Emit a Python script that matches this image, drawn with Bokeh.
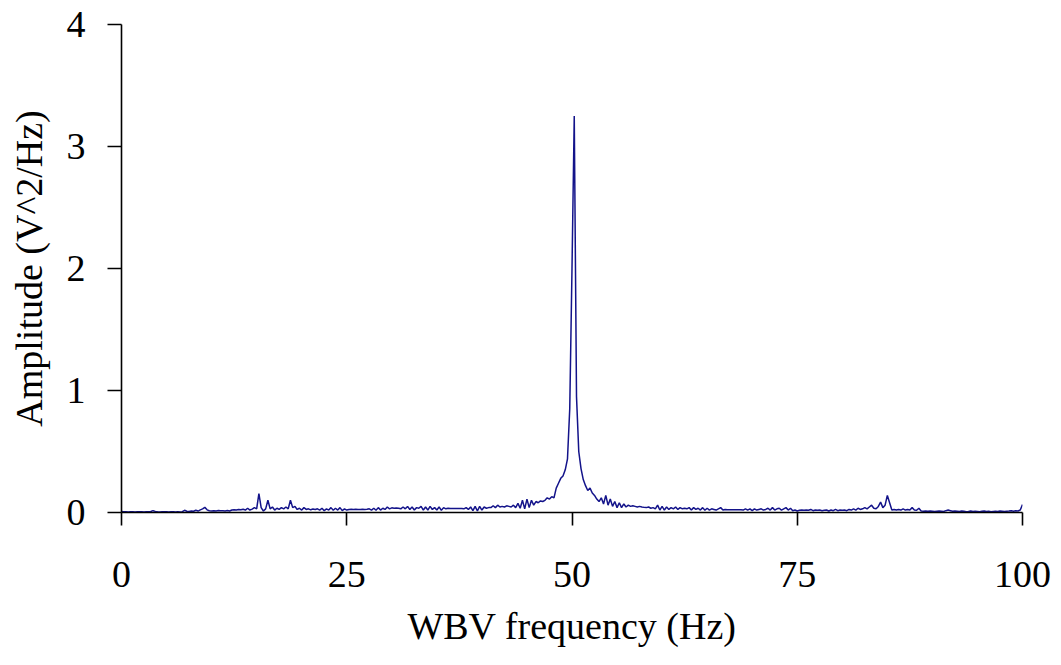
import numpy as np
from bokeh.plotting import figure
from bokeh.models import Range1d, FixedTicker
from bokeh.embed import file_html
from bokeh.resources import INLINE

# Spectrum sampled every 0.25 Hz from 0 to 100 Hz
freq_start = 0.0
freq_step = 0.25

amp_0_5 = [0.008, 0.006, 0.007, 0.005, 0.006, 0.007, 0.005, 0.006, 0.007, 0.006,
           0.005, 0.007, 0.006, 0.008, 0.015, 0.009, 0.006, 0.005, 0.007, 0.006]
amp_5_10 = [0.006, 0.005, 0.007, 0.006, 0.005, 0.006, 0.005, 0.007, 0.018, 0.010,
            0.008, 0.012, 0.010, 0.018, 0.012, 0.022, 0.030, 0.042, 0.022, 0.014]
amp_10_15 = [0.012, 0.015, 0.013, 0.016, 0.014, 0.015, 0.013, 0.016, 0.012, 0.020,
             0.022, 0.020, 0.025, 0.022, 0.026, 0.020, 0.035, 0.020, 0.028, 0.040]
amp_15_20 = [0.030, 0.155, 0.040, 0.012, 0.030, 0.100, 0.030, 0.045, 0.020, 0.035,
             0.025, 0.040, 0.030, 0.045, 0.030, 0.100, 0.040, 0.050, 0.025, 0.035]
amp_20_25 = [0.020, 0.040, 0.025, 0.030, 0.022, 0.028, 0.025, 0.030, 0.020, 0.035,
             0.015, 0.030, 0.020, 0.040, 0.018, 0.035, 0.020, 0.040, 0.015, 0.030]
amp_25_30 = [0.020, 0.025, 0.026, 0.025, 0.026, 0.025, 0.025, 0.026, 0.025, 0.026,
             0.030, 0.020, 0.035, 0.018, 0.040, 0.020, 0.035, 0.025, 0.045, 0.030]
amp_30_35 = [0.038, 0.035, 0.036, 0.035, 0.030, 0.045, 0.030, 0.050, 0.025, 0.045,
             0.020, 0.040, 0.035, 0.050, 0.020, 0.045, 0.020, 0.050, 0.025, 0.040]
amp_35_40 = [0.020, 0.045, 0.018, 0.040, 0.030, 0.035, 0.032, 0.033, 0.032, 0.033,
             0.032, 0.033, 0.030, 0.040, 0.025, 0.045, 0.015, 0.050, 0.012, 0.050]
amp_40_45 = [0.020, 0.045, 0.035, 0.040, 0.040, 0.055, 0.040, 0.060, 0.045, 0.050,
             0.045, 0.055, 0.050, 0.045, 0.060, 0.040, 0.075, 0.035, 0.100, 0.030]
amp_45_50 = [0.110, 0.040, 0.100, 0.060, 0.090, 0.080, 0.095, 0.090, 0.100, 0.120,
             0.110, 0.130, 0.120, 0.200, 0.240, 0.280, 0.300, 0.350, 0.440, 0.850]
amp_50_55 = [2.000, 3.250, 0.950, 0.500, 0.360, 0.270, 0.220, 0.180, 0.200, 0.160,
             0.140, 0.110, 0.090, 0.120, 0.070, 0.140, 0.060, 0.110, 0.050, 0.090]
amp_55_60 = [0.040, 0.080, 0.040, 0.070, 0.045, 0.060, 0.050, 0.055, 0.050, 0.045,
             0.050, 0.045, 0.042, 0.040, 0.045, 0.035, 0.040, 0.030, 0.060, 0.020]
amp_60_65 = [0.050, 0.020, 0.045, 0.025, 0.040, 0.030, 0.045, 0.025, 0.040, 0.030,
             0.035, 0.030, 0.040, 0.020, 0.040, 0.025, 0.035, 0.020, 0.040, 0.018]
amp_65_70 = [0.035, 0.020, 0.030, 0.025, 0.020, 0.030, 0.040, 0.020, 0.025, 0.022,
             0.022, 0.023, 0.022, 0.023, 0.022, 0.022, 0.020, 0.030, 0.020, 0.030]
amp_70_75 = [0.015, 0.030, 0.020, 0.025, 0.030, 0.020, 0.025, 0.035, 0.020, 0.040,
             0.020, 0.030, 0.035, 0.020, 0.030, 0.040, 0.020, 0.035, 0.015, 0.020]
amp_75_80 = [0.012, 0.018, 0.020, 0.018, 0.020, 0.018, 0.025, 0.015, 0.020, 0.018,
             0.020, 0.015, 0.018, 0.020, 0.012, 0.020, 0.015, 0.025, 0.015, 0.020]
amp_80_85 = [0.018, 0.020, 0.015, 0.025, 0.020, 0.030, 0.020, 0.035, 0.025, 0.030,
             0.040, 0.030, 0.045, 0.060, 0.035, 0.030, 0.050, 0.085, 0.040, 0.060]
amp_85_90 = [0.140, 0.080, 0.020, 0.025, 0.020, 0.025, 0.020, 0.030, 0.020, 0.025,
             0.020, 0.040, 0.020, 0.018, 0.035, 0.012, 0.010, 0.012, 0.010, 0.012]
amp_90_95 = [0.010, 0.008, 0.010, 0.012, 0.010, 0.008, 0.015, 0.020, 0.015, 0.010,
             0.012, 0.010, 0.008, 0.012, 0.010, 0.006, 0.008, 0.012, 0.008, 0.010]
amp_95_100 = [0.008, 0.006, 0.010, 0.012, 0.008, 0.010, 0.006, 0.008, 0.010, 0.008,
              0.012, 0.010, 0.008, 0.010, 0.012, 0.015, 0.010, 0.015, 0.012, 0.020]
amp_100 = [0.065]

x_ticks = [0, 25, 50, 75, 100]
y_ticks = [0, 1, 2, 3, 4]
x_label = "WBV frequency (Hz)"
y_label = "Amplitude (V^2/Hz)"

amplitude = (amp_0_5 + amp_5_10 + amp_10_15 + amp_15_20 + amp_20_25 + amp_25_30 +
             amp_30_35 + amp_35_40 + amp_40_45 + amp_45_50 + amp_50_55 + amp_55_60 +
             amp_60_65 + amp_65_70 + amp_70_75 + amp_75_80 + amp_80_85 + amp_85_90 +
             amp_90_95 + amp_95_100 + amp_100)
frequency = freq_start + freq_step * np.arange(len(amplitude))

FONT = "Liberation Serif"

p = figure(width=1061, height=665, output_backend="svg", toolbar_location=None,
           x_range=Range1d(0, 100), y_range=Range1d(0, 4),
           min_border_left=121, min_border_right=39, min_border_top=24,
           min_border_bottom=153)

p.line(frequency, amplitude, line_color="#13138a", line_width=1.5)

p.xgrid.visible = False
p.ygrid.visible = False
p.outline_line_color = None
p.background_fill_color = "white"
p.border_fill_color = "white"

for ax, ticks in ((p.xaxis[0], x_ticks), (p.yaxis[0], y_ticks)):
    ax.ticker = FixedTicker(ticks=ticks)
    ax.axis_line_color = "black"
    ax.axis_line_width = 1.6
    ax.major_tick_line_color = "black"
    ax.major_tick_line_width = 1.6
    ax.major_tick_in = 0
    ax.minor_tick_line_color = None
    ax.major_label_text_font = FONT
    ax.major_label_text_font_size = "38px"
    ax.major_label_text_color = "black"
    ax.axis_label_text_font = FONT
    ax.axis_label_text_font_size = "38px"
    ax.axis_label_text_font_style = "normal"
    ax.axis_label_text_color = "black"

p.xaxis[0].axis_label = x_label
p.xaxis[0].major_tick_out = 13
p.xaxis[0].major_label_standoff = 36
p.xaxis[0].axis_label_standoff = 15

p.yaxis[0].axis_label = y_label
p.yaxis[0].major_tick_out = 14
p.yaxis[0].major_label_standoff = 22
p.yaxis[0].axis_label_standoff = 14

open("out.html", "w").write(file_html(p, INLINE))
